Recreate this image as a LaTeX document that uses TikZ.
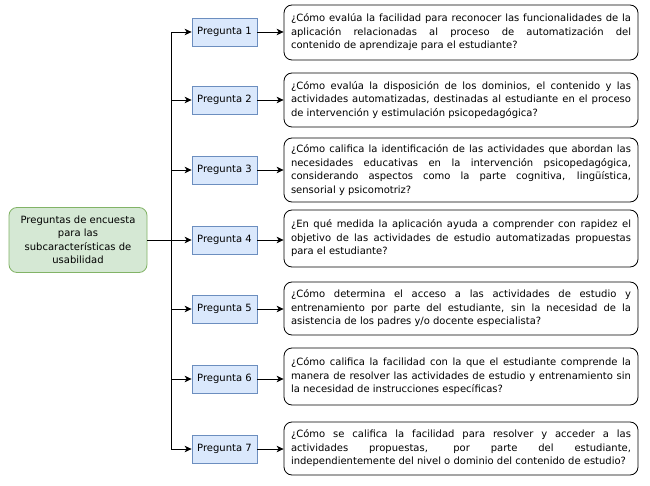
\documentclass[tikz,border=0pt]{standalone}
\usepackage{fontspec}
\setmainfont{DejaVu Sans}
\usetikzlibrary{arrows.meta}
\definecolor{gfill}{HTML}{D5E8D4}
\definecolor{gline}{HTML}{82B366}
\definecolor{bfill}{HTML}{DAE8FC}
\definecolor{bline}{HTML}{6C8EBF}
\newcommand{\qtxtfont}{\fontsize{10}{13.5}\selectfont\lefthyphenmin=64\righthyphenmin=64\hyphenpenalty=10000\tolerance=9999\hbadness=10000\hfuzz=30pt\relax}
\tikzset{
  rootbox/.style={draw=gline, fill=gfill, rounded corners=8pt, line width=0.8pt,
    minimum width=138pt, minimum height=65pt, align=center, inner sep=2pt,
    font=\fontsize{10}{13.5}\selectfont},
  qbox/.style={draw=bline, fill=bfill, line width=0.8pt, minimum width=65pt,
    minimum height=28pt, inner sep=0pt, font=\fontsize{10}{11}\selectfont},
  txtbox/.style={draw=black, fill=white, rounded corners=8pt, line width=0.8pt,
    minimum width=354pt, text width=340pt, inner xsep=7pt, inner ysep=0pt,
    align=justify, font=\qtxtfont},
  arr/.style={line width=0.8pt, -{Stealth[length=7pt,width=6.5pt,inset=2pt]}},
}
\begin{document}
\begin{tikzpicture}[x=1pt,y=-1pt]
\useasboundingbox (0,0) rectangle (650,486);
\node[rootbox] (g) at (78,240) {Preguntas de encuesta\\para las\\subcaracterísticas de\\usabilidad};
\coordinate (j) at (171,240);
\foreach \i/\y in {1/32,2/100,3/170,4/240,5/309,6/379,7/449}{
  \node[qbox] (p\i) at (224.5,\y) {Pregunta \i};
}
\node[txtbox, minimum height=55pt] (t1) at (461,32.5) {¿Cómo evalúa la facilidad para reconocer las funcionalidades de la\linebreak aplicación relacionadas al proceso de automatización del\linebreak contenido de aprendizaje para el estudiante?};
\node[txtbox, minimum height=54pt] (t2) at (461,100) {¿Cómo evalúa la disposición de los dominios, el contenido y las\linebreak actividades automatizadas, destinadas al estudiante en el proceso\linebreak de intervención y estimulación psicopedagógica?};
\node[txtbox, minimum height=64pt] (t3) at (461,170) {¿Cómo califica la identificación de las actividades que abordan las\linebreak necesidades educativas en la intervención psicopedagógica,\linebreak considerando aspectos como la parte cognitiva, lingüística,\linebreak sensorial y psicomotriz?};
\node[txtbox, minimum height=57pt] (t4) at (461,238.5) {¿En qué medida la aplicación ayuda a comprender con rapidez el\linebreak objetivo de las actividades de estudio automatizadas propuestas\linebreak para el estudiante?};
\node[txtbox, minimum height=53pt] (t5) at (461,308.5) {¿Cómo determina el acceso a las actividades de estudio y\linebreak entrenamiento por parte del estudiante, sin la necesidad de la\linebreak asistencia de los padres y/o docente especialista?};
\node[txtbox, minimum height=57pt] (t6) at (461,376.5) {¿Cómo califica la facilidad con la que el estudiante comprende la\linebreak manera de resolver las actividades de estudio y entrenamiento sin\linebreak la necesidad de instrucciones específicas?};
\node[txtbox, minimum height=53pt] (t7) at (461,448.5) {¿Cómo se califica la facilidad para resolver y acceder a las\linebreak actividades propuestas, por parte del estudiante,\linebreak independientemente del nivel o dominio del contenido de estudio?};
\draw[arr] (g.east) -- (p4.west);
\foreach \i in {1,2,3,5,6,7}{
  \draw[arr] (g.east) -- (j) |- (p\i.west);
}
\foreach \i in {1,...,7}{
  \draw[arr] (p\i.east) -- (p\i.east -| t\i.west);
}
\end{tikzpicture}
\end{document}
